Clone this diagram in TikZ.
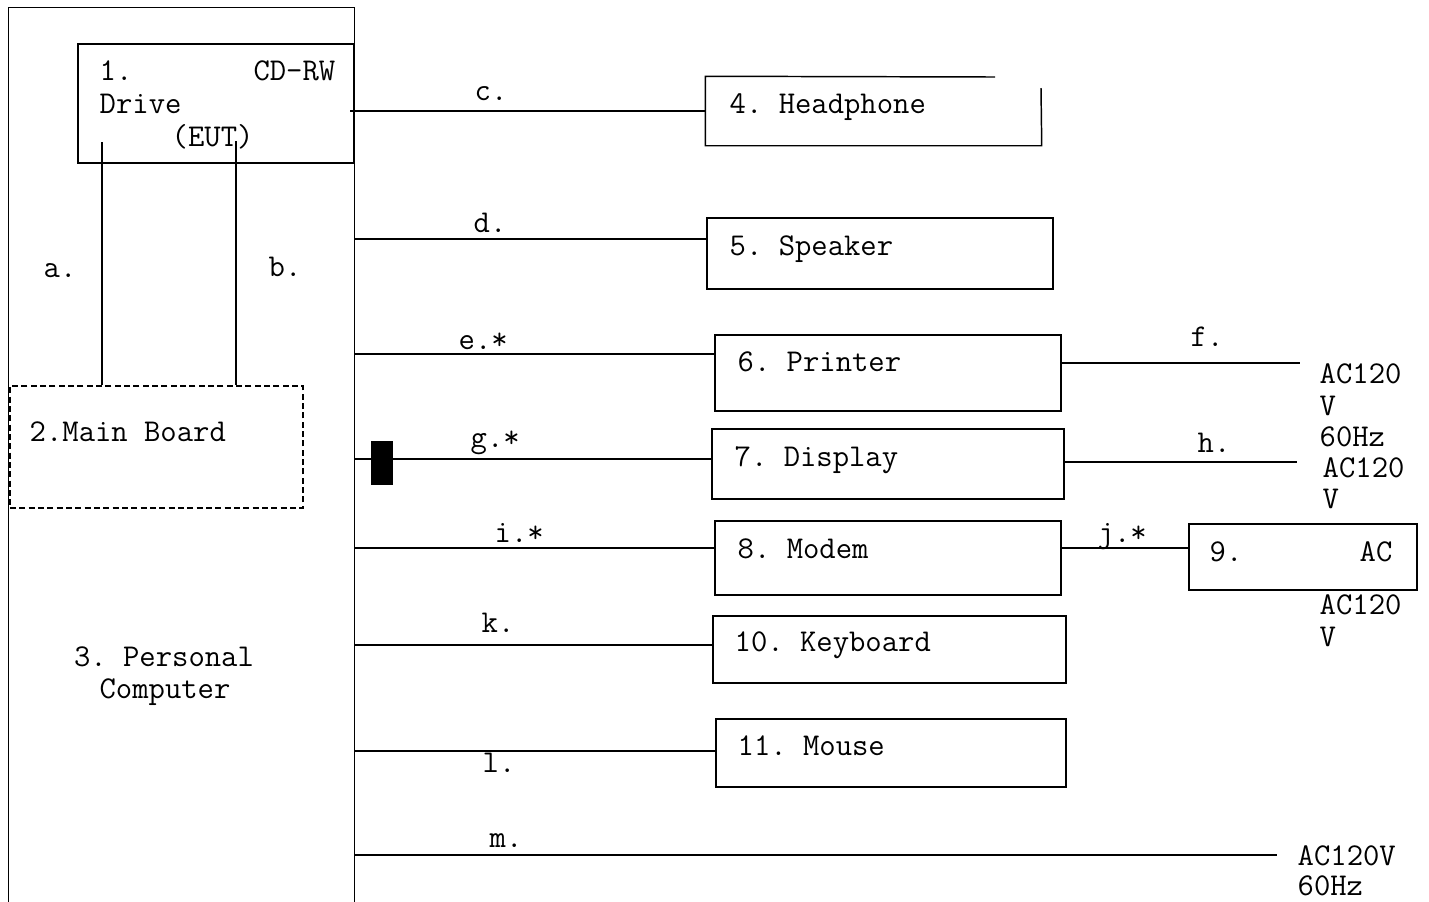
\documentclass[tikz,border=0pt]{standalone}
\usetikzlibrary{fit}
\begin{document}
\begin{tikzpicture}[x=0.75pt,y=-0.75pt,line width=1.1pt,
  box/.style={draw, inner sep=0pt},
  area/.style={inner sep=0pt},
  dashbox/.style={dash pattern=on 4.5pt off 2.5pt},
  t/.style={anchor=base west, inner sep=0pt, font=\ttfamily\fontsize{23.8}{27}\selectfont\frenchspacing},
  tc/.style={t, anchor=base},
  te/.style={t, anchor=base east}]
\useasboundingbox (0,0) rectangle (1429,901);

% 3. Personal Computer
\node[area, fit={(9,8)(354,901)}] (pc) {};
\draw (pc.south west) -- (pc.north west) -- (pc.north east) -- (pc.south east);
\node[tc] (pcT1) at (164,666) {3. Personal};
\node[tc] (pcT2) at (165,698) {Computer};

% 1. CD-RW Drive
\node[box, fit={(78,44)(354,163)}] (drv) {};
\node[t] (drvT1) at (99,80) {1.};
\node[te] (drvT2) at (336,80) {CD-RW};
\node[t] (drvT3) at (99,113) {Drive};
\node[t] (drvT4) at (171,146) {(EUT)};

% 2. Main Board
\node[box, dashbox, fit={(10,386)(303,508)}] (mb) {};
\node[t] (mbT) at (29,441) {2.Main Board};

% a, b
\coordinate (aTop) at (102,142);
\coordinate (bTop) at (236,141);
\draw (aTop) -- (aTop |- mb.north);
\draw (bTop) -- (bTop |- mb.north);
\node[t] (la) at (43,277) {a.};
\node[t] (lb) at (268,276) {b.};

% 4. Headphone
\node[area, fit={(706,77)(1041,145)}] (hp) {};
\draw (995,77) -- (hp.north west) -- (hp.south west) -- (hp.south east) -- (1041,88);
\node[t] (hpT) at (729,113) {4. Headphone};
\coordinate (pcC) at (350,111);
\draw (pcC) -- (pcC -| hp.west);
\node[t] (lc) at (474,100) {c.};

% 5. Speaker
\node[box, fit={(707,218)(1053,289)}] (sp) {};
\node[t] (spT) at (729,255) {5. Speaker};
\coordinate (pcD) at (354,239);
\draw (pcD) -- (pcD -| sp.west);
\node[t] (ld) at (473,232) {d.};

% 6. Printer
\node[box, fit={(715,335)(1061,411)}] (pr) {};
\node[t] (prT) at (737,371) {6. Printer};
\coordinate (pcE) at (354,354);
\draw (pcE) -- (pcE -| pr.west);
\node[t] (le) at (458,349) {e.*};
\coordinate (fEnd) at (1300,363);
\draw (fEnd -| pr.east) -- (fEnd);
\node[t] (lf) at (1190,346) {f.};
\node[t] (fT1) at (1319,383) {AC120};
\node[t] (fT2) at (1319,415) {V};
\node[t] (fT3) at (1319,446) {60Hz};

% 7. Display
\node[box, fit={(712,429)(1064,499)}] (dp) {};
\node[t] (dpT) at (734,466) {7. Display};
\coordinate (pcG) at (354,459);
\draw (pcG) -- (pcG -| dp.west);
\node[fill=black, draw=black, line width=0.4pt, inner sep=0pt, fit={(371,441)(392,484)}] (core) {};
\node[t] (lg) at (470,447) {g.*};
\coordinate (hEnd) at (1297,462);
\draw (hEnd -| dp.east) -- (hEnd);
\node[t] (lh) at (1197,452) {h.};
\node[t] (hT1) at (1322,477) {AC120};
\node[t] (hT2) at (1322,508) {V};

% 8. Modem
\node[box, fit={(715,521)(1061,595)}] (md) {};
\node[t] (mdT) at (737,558) {8. Modem};
\coordinate (pcI) at (354,548);
\draw (pcI) -- (pcI -| md.west);
\node[t] (li) at (494,542) {i.*};

% 9. AC Adapter
\node[box, fit={(1189,524)(1417,590)}] (ad) {};
\node[t] (adT1) at (1209,561) {9.};
\node[t] (adT2) at (1359,561) {AC};
\draw (pcI -| md.east) -- (pcI -| ad.west);
\node[t] (lj) at (1097,542) {j.*};
\node[t] (jT1) at (1319,614) {AC120};
\node[t] (jT2) at (1319,646) {V};

% 10. Keyboard
\node[box, fit={(713,616)(1066,683)}] (kb) {};
\node[t] (kbT) at (734,651) {10. Keyboard};
\coordinate (pcK) at (354,645);
\draw (pcK) -- (pcK -| kb.west);
\node[t] (lk) at (481,632) {k.};

% 11. Mouse
\node[box, fit={(716,719)(1066,787)}] (ms) {};
\node[t] (msT) at (737,755) {11. Mouse};
\coordinate (pcL) at (354,751);
\draw (pcL) -- (pcL -| ms.west);
\node[t] (ll) at (482,772) {l.};

% m. AC mains
\coordinate (pcM) at (354,855);
\coordinate (mEnd) at (1277,855);
\draw (pcM) -- (mEnd);
\node[t] (lm) at (489,847) {m.};
\node[t] (mT1) at (1297,865) {AC120V};
\node[t] (mT2) at (1297,895) {60Hz};
\end{tikzpicture}
\end{document}
